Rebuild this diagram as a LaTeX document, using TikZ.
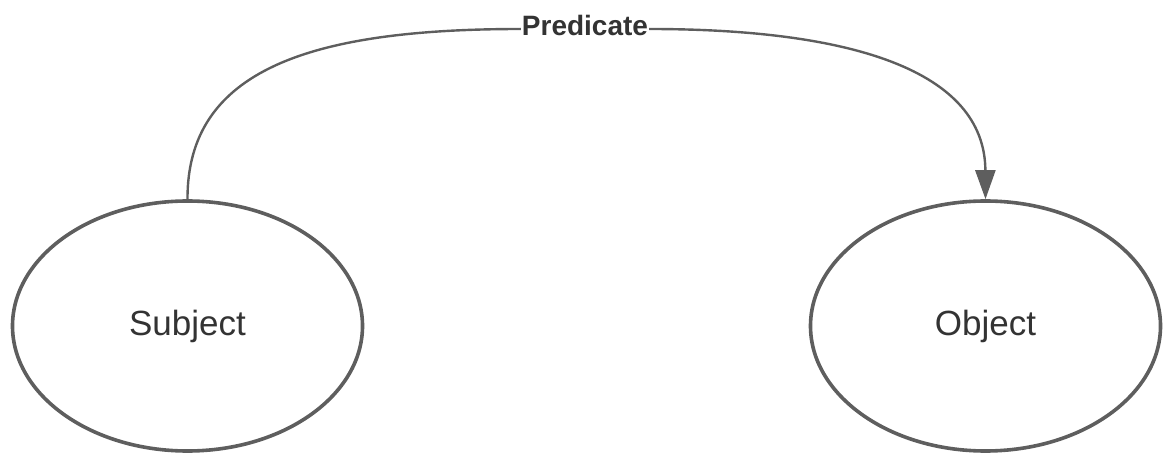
\documentclass[tikz,border=0pt]{standalone}
\usepackage{fontspec}
\setmainfont{Liberation Sans}
\usetikzlibrary{arrows.meta,shapes.geometric}
\definecolor{linegray}{HTML}{5E5E5E}
\definecolor{textgray}{HTML}{333333}
\begin{document}
\begin{tikzpicture}[x=1pt,y=-1pt,
term/.style={ellipse,draw=linegray,line width=3.6pt,minimum width=350pt,minimum height=250pt,
  text=textgray,font=\fontsize{35}{40}\selectfont},
link/.style={draw=linegray,line width=2.4pt},
]
\useasboundingbox (0,0) rectangle (1163,454);
\node[term] (subj) at (187.5,326) {Subject};
\node[term] (obj) at (985.5,326) {Object};
\node[inner sep=1pt,text=textgray,font=\bfseries\fontsize{28}{30}\selectfont] (pred) at (585,25) {Predicate};
%\coordinate (top) at (585,29);
\draw[link] (subj.north) .. controls (187,70) and (310,29) .. (pred.west |- 0,29);
\draw[link,-{Triangle[length=29pt,width=20pt]}] (pred.east |- 0,29) .. controls (850,29) and (985,70) .. (obj.north);
\end{tikzpicture}
\end{document}
